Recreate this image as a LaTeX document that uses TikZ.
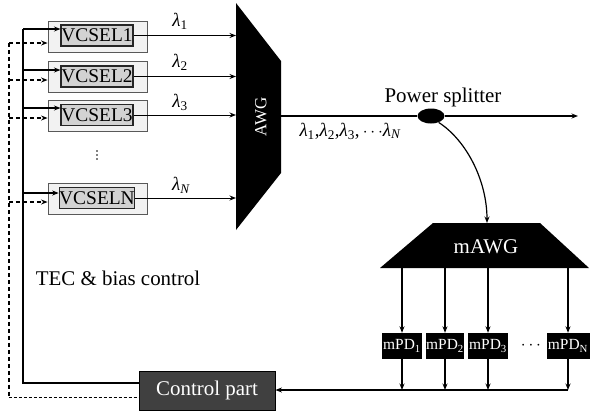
\documentclass[tikz,border=0pt]{standalone}
\usepackage{fontspec}
\setmainfont{Liberation Serif}
\newfontfamily\tms{Liberation Serif}
\usetikzlibrary{arrows.meta,shapes.geometric}
\begin{document}
\begin{tikzpicture}[x=1bp,y=-1bp,
  arr/.style={-{Stealth[length=6.5pt,width=5pt]}, line width=1.2pt},
  dsh/.style={dash pattern=on 4pt off 3pt, line width=1.2pt},
  outerbox/.style={draw=gray!70!black, fill=gray!10, line width=0.9pt, minimum width=99bp, minimum height=31bp, inner sep=0pt},
  innerbox/.style={draw=black!85, fill=gray!35, line width=1.1pt, minimum width=72bp, minimum height=21bp, inner sep=0pt, font=\tms\fontsize{19.5}{20}\selectfont},
  pd/.style={fill=black, text=white, minimum height=26bp, inner sep=0pt, font=\tms\fontsize{15.5}{16}\selectfont},
  lam/.style={font=\tms\fontsize{19}{20}\selectfont, inner sep=0pt},
  lbl/.style={font=\tms\fontsize{21}{24}\selectfont, inner sep=0pt}]
\useasboundingbox (0,0) rectangle (590,412);

% VCSEL boxes
\node[outerbox] (o1) at (97.5,36.5) {};
\node[innerbox] (v1) at (97,35.5) {VCSEL1};
\node[outerbox] (o2) at (97.5,77) {};
\node[innerbox] (v2) at (97,76.5) {VCSEL2};
\node[outerbox] (o3) at (97.5,116) {};
\node[innerbox] (v3) at (97,115) {VCSEL3};
\node[outerbox] (oN) at (97.5,199) {};
\node[innerbox] (vN) at (97,198) {VCSELN};
\fill (97,151) circle (0.8) (97,155) circle (0.8) (97,159) circle (0.8);

% AWG
\fill (236,3) -- (281,61) -- (281,173) -- (236,230) -- cycle;
\coordinate (awgL) at (236,0);
\node[rotate=90, text=white, font=\tms\fontsize{17}{18}\selectfont, inner sep=0pt] (awg) at (261,117) {AWG};

% Control part
\node[lbl, fill=black!75, draw=black, line width=0.9pt, text=white, minimum width=136bp, minimum height=39bp] (ctrl) at (207,390.5) {Control part};
\node[lbl] (tec) at (118,278) {TEC \& bias control};

% solid bus
\coordinate (b1) at (23,29);
\coordinate (b2) at (23,70);
\coordinate (b3) at (23,108);
\coordinate (bN) at (23,193);
\coordinate (bbot) at (23,383);
\draw[line width=1.2pt] (b1) -- (bbot) -- (bbot -| ctrl.west);
\draw[arr] (b1) -- (b1 -| v1.west);
\draw[arr] (b2) -- (b2 -| v2.west);
\draw[arr] (b3) -- (b3 -| v3.west);
\draw[arr] (bN) -- (bN -| vN.west);

% dashed bus
\coordinate (d1) at (9,43);
\coordinate (d2) at (9,80);
\coordinate (d3) at (9,118);
\coordinate (dN) at (9,202);
\coordinate (dbot) at (9,397);
\draw[dsh] (d1) -- (dbot);
\draw[dash pattern=on 3pt off 2pt, line width=0.9pt] (dbot) -- (dbot -| ctrl.west);
\draw[dsh, arr] (d1) -- (d1 -| o1.west);
\draw[dsh, arr] (d2) -- (d2 -| o2.west);
\draw[dsh, arr] (d3) -- (d3 -| o3.west);
\draw[dsh, arr] (dN) -- (dN -| oN.west);

% VCSEL outputs
\draw[arr] (v1.east) -- (v1.east -| awgL);
\draw[arr] (v2.east) -- (v2.east -| awgL);
\draw[arr, line width=1pt] (v3.east) -- (v3.east -| awgL);
\draw[arr, line width=1pt] (vN.east) -- (vN.east -| awgL);
\node[lam] (l1) at (180,21) {{\itshape λ}\textsubscript{1}};
\node[lam] (l2) at (180,62) {{\itshape λ}\textsubscript{2}};
\node[lam] (l3) at (180,102) {{\itshape λ}\textsubscript{3}};
\node[lam] (lN) at (181,185) {{\itshape λ}\textsubscript{\itshape N}};

% AWG output and splitter
\coordinate (awgout) at (281,116);
\coordinate (outend) at (578,116);
\node[ellipse, fill=black, minimum width=27bp, minimum height=15bp, inner sep=0pt] (spl) at (431,116) {};
\draw[line width=1.2pt] (awgout) -- (spl);
\draw[arr] (spl) -- (outend);
\node[lbl] (pslbl) at (443,97) {Power splitter};
\node[lam] (lall) at (350,131) {{\itshape λ}\textsubscript{1},{\itshape λ}\textsubscript{2},{\itshape λ}\textsubscript{3},\,$\cdots${\itshape λ}\textsubscript{\itshape N}};

% mAWG
\fill (433,223) -- (540,223) -- (589,268) -- (380,268) -- cycle;
\coordinate (mawgtop) at (487,223);
\coordinate (mawgb) at (0,268);
\node[lbl, text=white] (mawg) at (486,247) {mAWG};
\draw[arr] (spl.-40) .. controls (466,140) and (487,180) .. (mawgtop);

% mPDs
\node[pd, minimum width=40bp] (p1) at (402,346) {mPD\textsubscript{1}};
\node[pd, minimum width=38bp] (p2) at (445,346) {mPD\textsubscript{2}};
\node[pd, minimum width=40bp] (p3) at (488,346) {mPD\textsubscript{3}};
\node[pd, minimum width=43bp] (pN) at (568,346) {mPD\textsubscript{N}};
\node[font=\tms\fontsize{16}{16}\selectfont, inner sep=0pt] (pdots) at (531,346) {$\cdots$};
\coordinate (busy) at (0,390);
\foreach \p in {p1,p2,p3,pN} {
  \draw[arr] (\p.north |- mawgb) -- (\p.north);
  \draw[arr] (\p.south) -- (\p.south |- busy);
}
\coordinate (busr) at (pN.south |- busy);
\draw[arr] (busr) -- (busr -| ctrl.east);
\end{tikzpicture}
\end{document}
